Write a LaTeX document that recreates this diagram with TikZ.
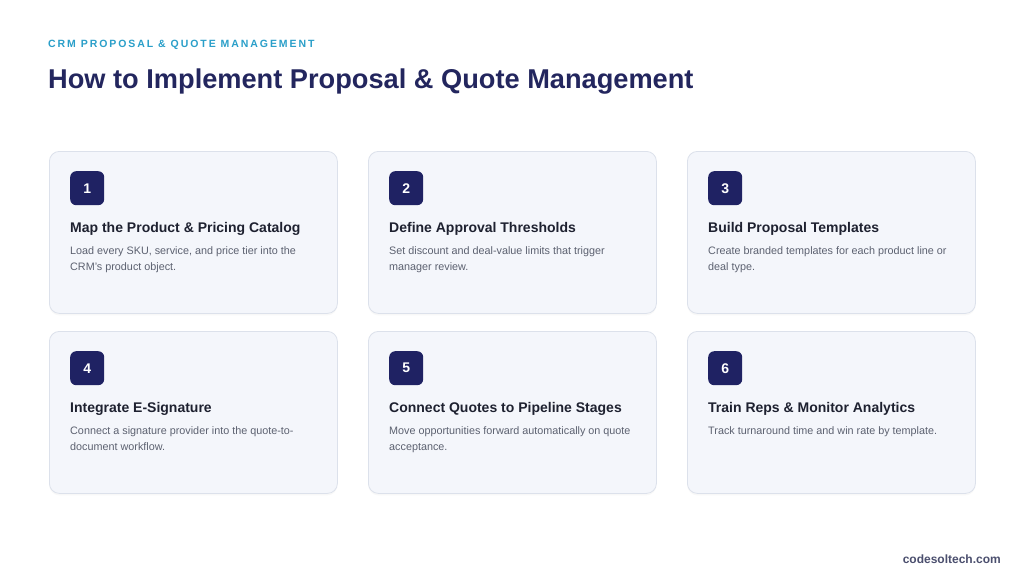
\documentclass[tikz,border=0pt]{standalone}
\usepackage{fontspec}
\setmainfont{Liberation Sans}
\newfontfamily\spacedfont[LetterSpace=18.5]{Liberation Sans}
\usetikzlibrary{shadows}
\definecolor{cardfill}{HTML}{F4F6FB}
\definecolor{cardline}{HTML}{DCE1EB}
\definecolor{badgefill}{HTML}{1F2263}
\definecolor{titlecol}{HTML}{1E2130}
\definecolor{desccol}{HTML}{5C6170}
\definecolor{kickercol}{HTML}{2A9FC9}
\definecolor{headcol}{HTML}{23265E}
\definecolor{footcol}{HTML}{4B4F6E}
\tikzset{
  card/.style={draw=cardline, line width=0.8pt, fill=cardfill, rounded corners=10pt,
    minimum width=288pt, minimum height=162pt, inner sep=0pt, anchor=north west,
    drop shadow={opacity=0.05, shadow xshift=0pt, shadow yshift=-2pt}},
  badge/.style={fill=badgefill, rounded corners=6pt, minimum size=34pt, inner sep=0pt,
    anchor=north west, text=white, font=\bfseries\fontsize{14}{16}\selectfont},
  cardtitle/.style={anchor=base west, inner sep=0pt, text=titlecol,
    font=\bfseries\fontsize{14}{17}\selectfont},
  carddesc/.style={anchor=north west, inner sep=0pt, text=desccol, align=left,
    font=\fontsize{10.8}{16}\selectfont},
}
\begin{document}
\begin{tikzpicture}[x=1pt,y=-1pt]
\useasboundingbox[fill=white] (0,0) rectangle (1024,584);
\node[anchor=base west, inner sep=0pt, text=kickercol, font=\spacedfont\bfseries\fontsize{10.5}{12}\selectfont] (kicker) at (48,47) {CRM PROPOSAL \& QUOTE MANAGEMENT};
\node[anchor=base west, inner sep=0pt, text=headcol, font=\bfseries\fontsize{27.2}{30}\selectfont] (heading) at (48,88) {How to Implement Proposal \& Quote Management};
\foreach \n/\cx/\cy/\ttl/\la/\lb in {
  1/49/151/{Map the Product \& Pricing Catalog}/{Load every SKU, service, and price tier into the}/{CRM's product object.},
  2/368/151/{Define Approval Thresholds}/{Set discount and deal-value limits that trigger}/{manager review.},
  3/687/151/{Build Proposal Templates}/{Create branded templates for each product line or}/{deal type.},
  4/49/331/{Integrate E-Signature}/{Connect a signature provider into the quote-to-}/{document workflow.},
  5/368/331/{Connect Quotes to Pipeline Stages}/{Move opportunities forward automatically on quote}/{acceptance.},
  6/687/331/{Train Reps \& Monitor Analytics}/{Track turnaround time and win rate by template.}/{}}
{
  \node[card] (card\n) at (\cx,\cy) {};
  \node[badge] (badge\n) at (\cx+21,\cy+20) {\n};
  \node[cardtitle] (title\n) at (\cx+21,\cy+81) {\ttl};
  \node[carddesc] (desc\n) at (\cx+21,\cy+95.3) {\la\\\lb};
}
\node[anchor=base east, inner sep=0pt, text=footcol, font=\bfseries\fontsize{12}{14}\selectfont] (footer) at (1001,563) {codesoltech.com};
\end{tikzpicture}
\end{document}
